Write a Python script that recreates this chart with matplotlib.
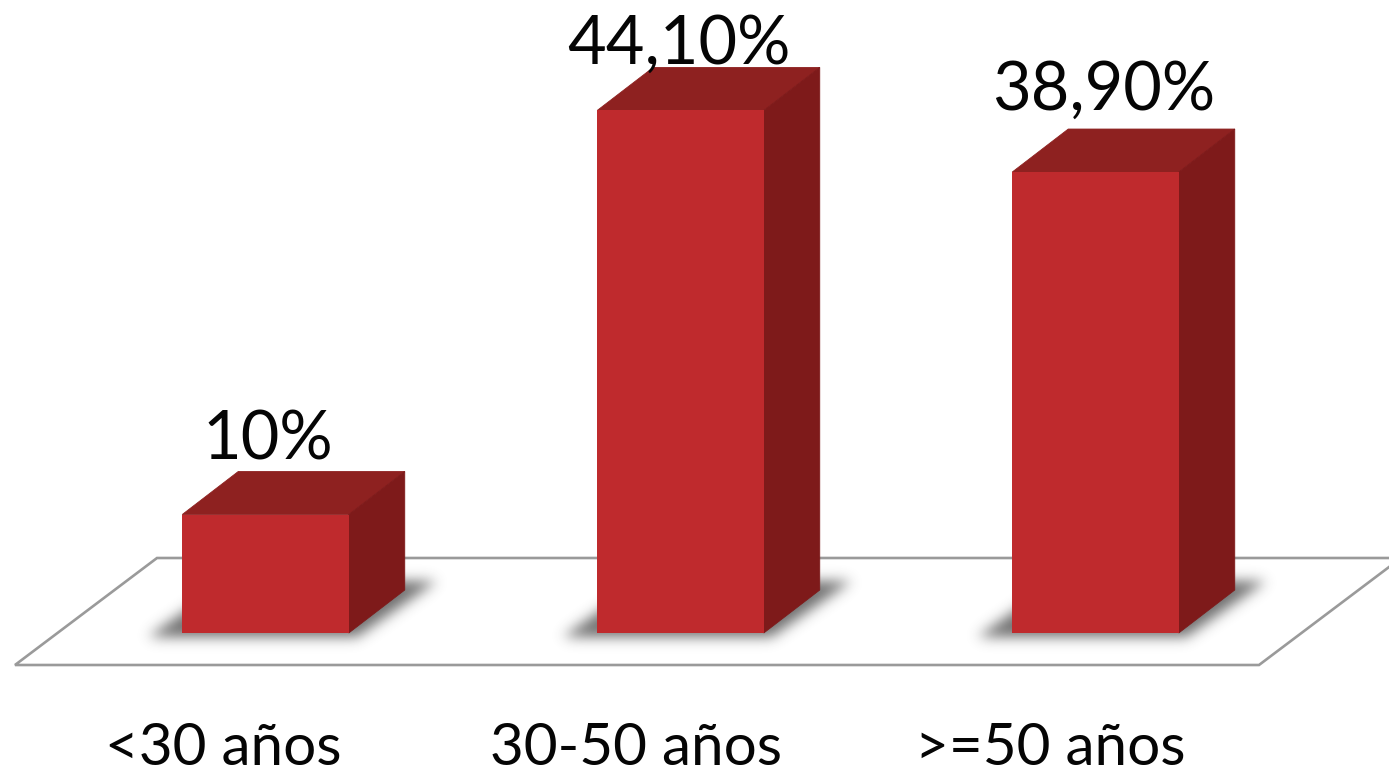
import numpy as np
import matplotlib
matplotlib.use("Agg")
import matplotlib.pyplot as plt
from matplotlib.patches import Polygon, Rectangle
from matplotlib.path import Path

categories = ["<30 años", "30-50 años", ">=50 años"]
values = [10.0, 44.1, 38.9]
value_labels = ["10%", "44,10%", "38,90%"]

W, H = 1389, 771
PX_PER_CAT = 415.0
PX_PER_PCT = 11.85
X0_PX, Y0_PX = 265.5, 633.0

plt.rcParams["font.family"] = ["Lato", "DejaVu Sans"]
fig = plt.figure(figsize=(W / 100, H / 100), dpi=100)
ax = fig.add_axes([0, 0, 1, 1])
xlim = (-X0_PX / PX_PER_CAT, (W - X0_PX) / PX_PER_CAT)
ylim = (-(H - Y0_PX) / PX_PER_PCT, Y0_PX / PX_PER_PCT)
ax.axis("off")

dx = lambda p: p / PX_PER_CAT
dy = lambda p: p / PX_PER_PCT

FRONT, TOP, SIDE = "#BF2A2D", "#8E2120", "#7E1A1A"
LINE = "#9A9A9A"
BAR_W = dx(166.5)
DEPTH_X, DEPTH_Y = dx(56), dy(43)

# floor outline
floor = Polygon([(dx(15 - X0_PX), dy(Y0_PX - 665)), (dx(1259 - X0_PX), dy(Y0_PX - 665)),
                 (dx(1401 - X0_PX), dy(Y0_PX - 558)), (dx(157 - X0_PX), dy(Y0_PX - 558))],
                closed=True, facecolor="white", edgecolor=LINE, linewidth=1.9, zorder=1)
ax.add_patch(floor)

# soft shadow: blurred mask of one slanted quadrilateral per bar
xs = np.linspace(xlim[0], xlim[1], W)
ys = np.linspace(ylim[0], ylim[1], H)
gx, gy = np.meshgrid(xs, ys)
pts = np.column_stack([gx.ravel(), gy.ravel()])
mask = np.zeros(W * H)
for i in range(len(values)):
    left, right = i - BAR_W / 2, i + BAR_W / 2
    quad = [(left - dx(34), dy(-4)), (right + dx(8), dy(-4)),
            (right + dx(88), dy(52)), (left + dx(46), dy(52))]
    mask += Path(quad).contains_points(pts).astype(float)
mask = mask.reshape(H, W)
t = np.arange(-24, 25)
kernel = np.exp(-t ** 2 / (2 * 6.5 ** 2))
kernel /= kernel.sum()
mask = np.apply_along_axis(lambda r: np.convolve(r, kernel, mode="same"), 0, mask)
mask = np.apply_along_axis(lambda r: np.convolve(r, kernel, mode="same"), 1, mask)
rgba = np.zeros((H, W, 4))
rgba[..., :3] = 0.25
rgba[..., 3] = np.clip(mask, 0, 1) * 0.75
ax.imshow(rgba, extent=(xlim[0], xlim[1], ylim[0], ylim[1]), origin="lower",
          aspect="auto", interpolation="nearest", zorder=2)
ax.set_xlim(*xlim)
ax.set_ylim(*ylim)

label_dx_px = [2.5, -2, 8.5]
label_dy_px = [55, 47, 62]
cat_dx_px = [-42, -44, -45]

for i, (v, lab, cat) in enumerate(zip(values, value_labels, categories)):
    left = i - BAR_W / 2
    right = i + BAR_W / 2
    ax.add_patch(Polygon([(left, v), (right, v), (right + DEPTH_X, v + DEPTH_Y), (left + DEPTH_X, v + DEPTH_Y)],
                         closed=True, facecolor=TOP, edgecolor=TOP, linewidth=0.6, zorder=4))
    ax.add_patch(Polygon([(right, 0), (right + DEPTH_X, DEPTH_Y), (right + DEPTH_X, v + DEPTH_Y), (right, v)],
                         closed=True, facecolor=SIDE, edgecolor=SIDE, linewidth=0.6, zorder=4))
    ax.add_patch(Rectangle((left, 0), BAR_W, v, facecolor=FRONT, edgecolor="none", zorder=5))
    ax.text(i + dx(label_dx_px[i]), v + dy(label_dy_px[i]), lab, ha="center", va="baseline",
            fontsize=48, color="#050505", zorder=6)
    ax.text(i + dx(cat_dx_px[i]), dy(Y0_PX - 765), cat, ha="center", va="baseline",
            fontsize=42, color="#050505", zorder=6)

fig.savefig("out.png", dpi=100, facecolor="white")
